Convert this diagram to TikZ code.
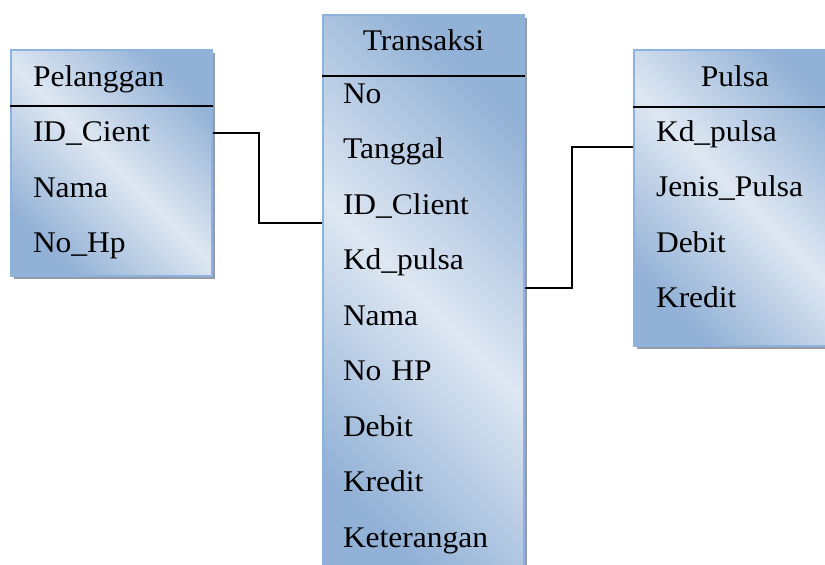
\documentclass[tikz,border=0pt]{standalone}
\usepackage{fontspec}
\setmainfont{Liberation Serif}[FakeStretch=1.05]
\usepackage{xcolor}
\usepackage{tikz}
\usetikzlibrary{shadows}
\definecolor{tabledark}{RGB}{146,177,214}
\definecolor{tablelight}{RGB}{222,231,242}
\definecolor{tableedge}{RGB}{141,178,222}
\definecolor{tableshadow}{RGB}{150,155,165}
\tikzstyle{entity} = [rectangle, draw=tableedge, line width=2pt, top color=tabledark, bottom color=tabledark, middle color=tablelight, shading angle=-45, drop shadow={shadow xshift=3pt, shadow yshift=-3pt, fill=tableshadow, opacity=1}]
\tikzstyle{field} = [text width=170pt, align=left, inner sep=0pt, text height=0.66em, text depth=0pt]
\tikzstyle{title} = [align=center, inner sep=0pt, text height=0.66em, text depth=0pt]
\tikzstyle{divider} = [line width=1.5pt, black]
\tikzstyle{link} = [line width=1.5pt, black]

\begin{document}
\begin{tikzpicture}[x=1pt, y=1pt, font=\fontsize{30}{36}\selectfont, node distance=55.5pt]
\useasboundingbox (0,0) rectangle (825,565);
\clip (0,0) rectangle (825,565);

%---------------------------------TABLES
\node (pel) [entity, minimum width=201pt, minimum height=226pt] at (111.5,402) {};
\node (trn) [entity, minimum width=201pt, minimum height=570pt] at (423.5,265) {};
\node (pul) [entity, minimum width=216pt, minimum height=296pt] at (742,367) {};

\draw [divider] ([yshift=-57pt]pel.north west) -- ([yshift=-57pt]pel.north east);
\draw [divider] ([yshift=-62pt]trn.north west) -- ([yshift=-62pt]trn.north east);
\draw [divider] ([yshift=-58pt]pul.north west) -- ([yshift=-58pt]pul.north east);

%---------------------------------PELANGGAN
\node (pelTitle) [field] at (118,482) {Pelanggan};
\node (pelId) [field, below of=pelTitle] {ID\_Cient};
\node (pelNama) [field, below of=pelId] {Nama};
\node (pelHp) [field, below of=pelNama] {No\_Hp};

%---------------------------------TRANSAKSI
\node (trnTitle) [title] at (423.5,518) {Transaksi};
\node (trnNo) [field] at (428,465) {No};
\node (trnTgl) [field, below of=trnNo] {Tanggal};
\node (trnId) [field, below of=trnTgl] {ID\_Client};
\node (trnKd) [field, below of=trnId] {Kd\_pulsa};
\node (trnNama) [field, below of=trnKd] {Nama};
\node (trnHp) [field, below of=trnNama] {No HP};
\node (trnDebit) [field, below of=trnHp] {Debit};
\node (trnKredit) [field, below of=trnDebit] {Kredit};
\node (trnKet) [field, below of=trnKredit] {Keterangan};

%---------------------------------PULSA
\node (pulTitle) [title] at (735,482) {Pulsa};
\node (pulKd) [field] at (741,427) {Kd\_pulsa};
\node (pulJenis) [field, below of=pulKd] {Jenis\_Pulsa};
\node (pulDebit) [field, below of=pulJenis] {Debit};
\node (pulKredit) [field, below of=pulDebit] {Kredit};

%---------------------------------LINKS
\coordinate (bendA1) at (259,432);
\coordinate (bendA2) at (259,342);
\coordinate (bendB1) at (572,277);
\coordinate (bendB2) at (572,418);
\draw [link] (pel.east |- bendA1) -- (bendA1) -- (bendA2) -- (trn.west |- bendA2);
\draw [link] (trn.east |- bendB1) -- (bendB1) -- (bendB2) -- (pul.west |- bendB2);

\end{tikzpicture}
\end{document}
